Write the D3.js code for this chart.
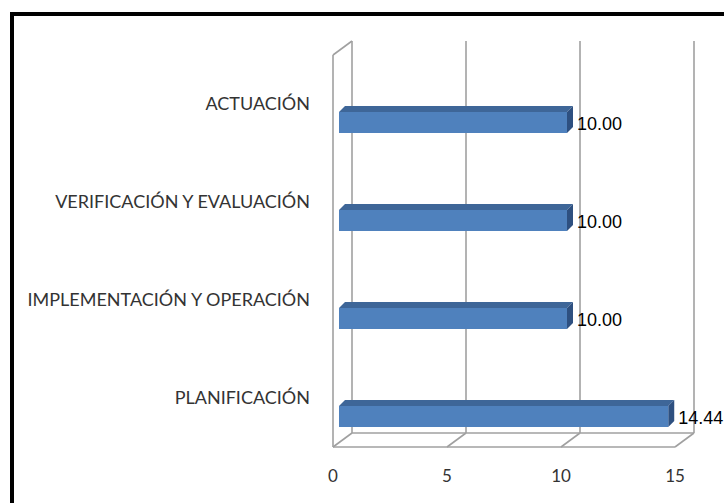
<!DOCTYPE html>
<html>
<head>
<meta charset="utf-8">
<script src="https://cdn.jsdelivr.net/npm/d3@7"></script>
<style>
  body { margin: 0; background: #fff; }
  svg { display: block; }
</style>
</head>
<body>
<svg id="chart"></svg>
<script>
// data, top to bottom as drawn
var categories = ["ACTUACIÓN", "VERIFICACIÓN Y EVALUACIÓN", "IMPLEMENTACIÓN Y OPERACIÓN", "PLANIFICACIÓN"];
var values = [10.00, 10.00, 10.00, 14.44];
var ticks = [0, 5, 10, 15];

var width = 724, height = 503;

var svg = d3.select('#chart')
    .attr("width", width)
    .attr("height", height);

// outer frame (runs off the page on the right and bottom)
svg.append("rect")
    .attr("x", 12).attr("y", 14)
    .attr("width", 800).attr("height", 600)
    .attr("fill", "none")
    .attr("stroke", "#000")
    .attr("stroke-width", 4);

// front plane scales
var x = d3.scaleLinear().domain([0, 15]).range([333, 675]);
var y = d3.scaleBand().domain(categories).range([55, 447]);

// depth of the 3d box
var dx = 19, dy = -14;
var gridColor = "#a0a0a0";

var grid = svg.append("g")
    .attr("fill", "none")
    .attr("stroke", gridColor)
    .attr("stroke-width", 1.6);

var top0 = y.range()[0], floor = y.range()[1];

// back wall verticals
grid.selectAll("line.back")
    .data(ticks)
    .enter()
    .append("line")
    .attr("class", "back")
    .attr("x1", function(d) { return x(d) + dx; })
    .attr("x2", function(d) { return x(d) + dx; })
    .attr("y1", top0 + dy)
    .attr("y2", floor + dy);

// floor diagonals
grid.selectAll("line.diag")
    .data(ticks)
    .enter()
    .append("line")
    .attr("class", "diag")
    .attr("x1", function(d) { return x(d); })
    .attr("x2", function(d) { return x(d) + dx; })
    .attr("y1", floor)
    .attr("y2", floor + dy);

// floor front and back edges, left wall
grid.append("line")
    .attr("x1", x(0)).attr("x2", x(15))
    .attr("y1", floor).attr("y2", floor);
grid.append("line")
    .attr("x1", x(0) + dx).attr("x2", x(15) + dx)
    .attr("y1", floor + dy).attr("y2", floor + dy);
grid.append("line")
    .attr("x1", x(0)).attr("x2", x(0))
    .attr("y1", top0).attr("y2", floor);
grid.append("line")
    .attr("x1", x(0)).attr("x2", x(0) + dx)
    .attr("y1", top0).attr("y2", top0 + dy);

// bars
var barInset = 6, barH = 21, barD = 6, barDrop = 8;
var bars = svg.selectAll("g.bar")
    .data(values)
    .enter()
    .append("g")
    .attr("class", "bar");

function bx0() { return x(0) + barInset; }
function bx1(d) { return x(d) + barInset; }
function by(d, i) { return y(categories[i]) + y.bandwidth() / 2 + barDrop; }

// top face
bars.append("path")
    .attr("d", function(d, i) {
      var x0 = bx0(), x1 = bx1(d), t = by(d, i);
      return "M" + x0 + "," + t + "L" + (x0 + barD) + "," + (t - barD) +
             "L" + (x1 + barD) + "," + (t - barD) + "L" + x1 + "," + t + "Z";
    })
    .attr("fill", "#3e6698");

// side face
bars.append("path")
    .attr("d", function(d, i) {
      var x1 = bx1(d), t = by(d, i);
      return "M" + x1 + "," + t + "L" + (x1 + barD) + "," + (t - barD) +
             "L" + (x1 + barD) + "," + (t - barD + barH) + "L" + x1 + "," + (t + barH) + "Z";
    })
    .attr("fill", "#2e5080");

// front face
bars.append("rect")
    .attr("x", bx0())
    .attr("y", function(d, i) { return by(d, i); })
    .attr("width", function(d) { return bx1(d) - bx0(); })
    .attr("height", barH)
    .attr("fill", "#4f81bd");

// data labels
bars.append("text")
    .attr("x", function(d) { return bx1(d) + 10; })
    .attr("y", function(d, i) { return by(d, i) + barH / 2 + 1; })
    .attr("dy", "0.35em")
    .attr("font-family", "Liberation Sans, Arial, sans-serif")
    .attr("font-size", "18px")
    .attr("fill", "#000")
    .text(function(d) { return d.toFixed(2); });

// category labels
svg.selectAll("text.cat")
    .data(categories)
    .enter()
    .append("text")
    .attr("class", "cat")
    .attr("x", 310)
    .attr("y", function(d) { return y(d) + y.bandwidth() / 2; })
    .attr("dy", "0.35em")
    .attr("text-anchor", "end")
    .attr("font-family", "Lato, sans-serif")
    .attr("font-size", "18px")
    .attr("fill", "#333")
    .text(function(d) { return d; });

// value axis labels
svg.selectAll("text.tick")
    .data(ticks)
    .enter()
    .append("text")
    .attr("class", "tick")
    .attr("x", function(d) { return x(d); })
    .attr("y", 476)
    .attr("dy", "0.35em")
    .attr("text-anchor", "middle")
    .attr("font-family", "Lato, sans-serif")
    .attr("font-size", "17px")
    .attr("fill", "#333")
    .text(function(d) { return d; });
</script>
</body>
</html>
